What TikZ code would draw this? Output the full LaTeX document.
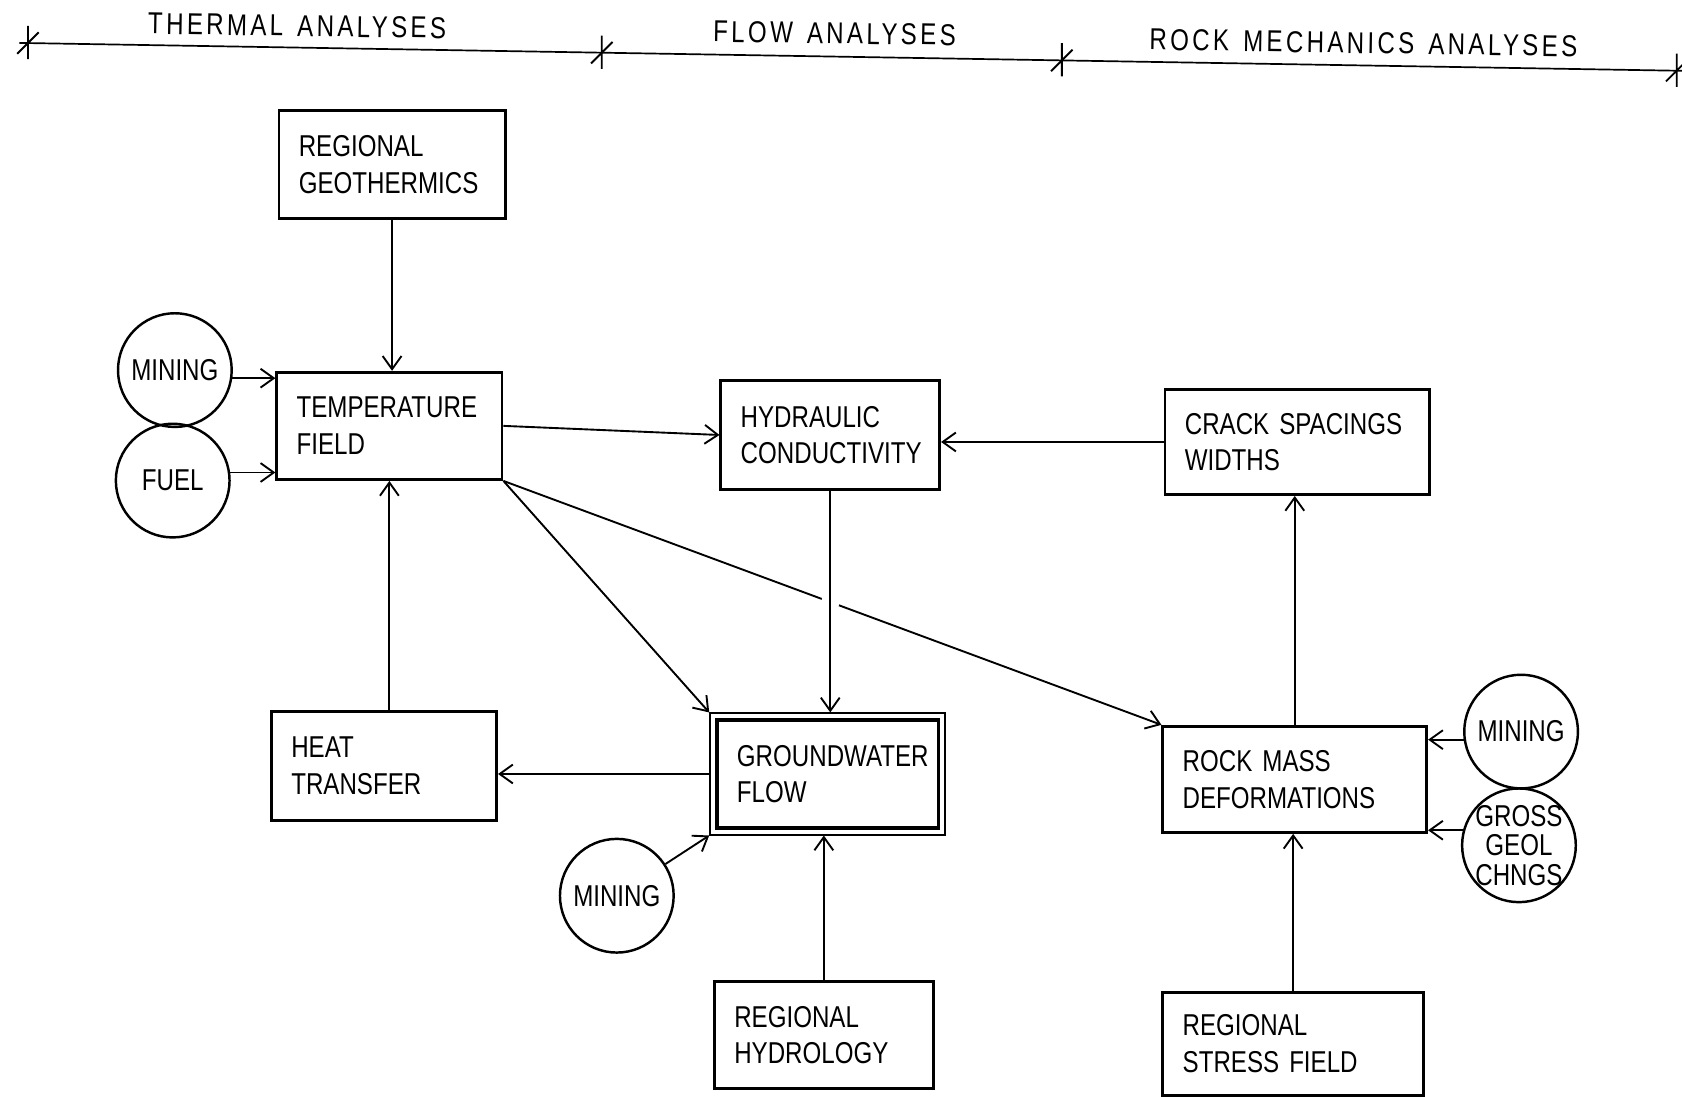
\documentclass[tikz,border=0pt]{standalone}
\usepackage{fontspec}
\setmainfont{Liberation Sans}[FakeStretch=0.8,WordSpace=1.4]
\usetikzlibrary{calc,arrows.meta}

\begin{document}
\begin{tikzpicture}[x=0.02cm,y=-0.02cm,
    font=\fontsize{16}{19.4}\selectfont,
    box/.style={draw,line width=1.5pt,align=left,inner xsep=0.37cm,inner ysep=0pt},
    circ/.style={draw,circle,line width=1.3pt,minimum size=2.12cm,inner sep=0pt},
    hdr/.style={rotate=-0.9,font=\fontsize{16}{19.4}\selectfont\addfontfeature{LetterSpace=11}},
    arr/.style={-{Straight Barb[length=7pt,width=10pt]},line width=1pt}]
  \useasboundingbox (0,0) rectangle (1568,1022);
  \coordinate (hl) at (18,40);
  \coordinate (hr) at (1568,66);
  \draw[line width=0.9pt] (hl) -- (hr);
  \foreach \t in {0.0052,0.3503,0.627,0.9968}{%
    \coordinate (tk) at ($(hl)!\t!(hr)$);
    \draw[line width=1pt] ($(tk)+(0,-16)$) -- ($(tk)+(0,15)$) ($(tk)+(-10,10)$) -- ($(tk)+(10,-10)$);
  }
  \node[hdr] (thermal) at (277,24) {THERMAL ANALYSES};
  \node[hdr] (flow) at (778,31) {FLOW ANALYSES};
  \node[hdr] (rockmech) at (1271,40) {ROCK MECHANICS ANALYSES};

  \foreach \nm/\cx/\cy/\boxw/\boxh/\lbl in {%
    geo/365.5/153.5/4.22/2.02/{REGIONAL\\GEOTHERMICS},
    temp/363/397/4.2/2.0/{TEMPERATURE\\FIELD},
    hyd/774/405.5/4.08/2.02/{HYDRAULIC\\CONDUCTIVITY},
    crack/1209.5/412/4.94/1.96/{CRACK SPACINGS\\WIDTHS},
    heat/358/714/4.2/2.04/{HEAT\\TRANSFER},
    rmd/1207/726.5/4.92/1.98/{ROCK MASS\\DEFORMATIONS},
    hydro/768/965/4.08/2.0/{REGIONAL\\HYDROLOGY},
    stress/1205.5/973/4.86/1.92/{REGIONAL\\STRESS FIELD}}{%
      \pgfmathsetmacro\tw{\boxw-0.74}
      \node[box,text width=\tw cm,minimum width=\boxw cm,minimum height=\boxh cm] (\nm) at (\cx,\cy) {\lbl};
    }
  \node[box,line width=1pt,inner xsep=0.5cm,text width=3.38cm,minimum width=4.38cm,minimum height=2.26cm] (gw) at (771.5,721.5) {GROUNDWATER\\FLOW};
  \draw[line width=2pt] ([shift={(7,7)}]gw.north west) rectangle ([shift={(-7,-7)}]gw.south east);

  \foreach \nm/\cx/\cy/\lbl in {min1/163/345/MINING,fuel/161/448/FUEL,min2/575/835/MINING,
    min3/1418/682/MINING,gross/1416/788/{GROSS\\GEOL\\CHNGS}}{%
      \node[circ,label={[align=center,font=\fontsize{16}{15.6}\selectfont]center:\lbl}] (\nm) at (\cx,\cy) {};
    }

  \draw[arr] (geo.south) -- (geo.south |- temp.north);
  \draw[arr] (min1.-8) -- (min1.-8 -| temp.west);
  \draw[arr] (fuel.8) -- (fuel.8 -| temp.west);
  \draw[arr] (temp.east) -- (hyd.west);
  \draw[arr] (crack.west) -- (crack.west -| hyd.east);
  \draw[arr] (temp.south east) -- (gw.north west);
  \draw[arr] (temp.south east) -- (rmd.north west);
  \coordinate (hv) at (hyd.south |- gw.north);
  \fill[white] (intersection of temp.south east--rmd.north west and hyd.south--hv) circle (0.17cm);
  \draw[arr] (hyd.south) -- (hv);
  \draw[arr] (temp.south |- heat.north) -- (temp.south);
  \draw[arr] (gw.west) -- (gw.west -| heat.east);
  \draw[arr] (min2) -- (gw.south west);
  \draw[arr] (hydro.north) -- (hydro.north |- gw.south);
  \draw[arr] (rmd.north) -- (rmd.north |- crack.south);
  \draw[arr] (min3.188) -- (min3.188 -| rmd.east);
  \draw[arr] (gross.165) -- (gross.165 -| rmd.east);
  \draw[arr] (stress.north) -- (stress.north |- rmd.south);
\end{tikzpicture}
\end{document}
